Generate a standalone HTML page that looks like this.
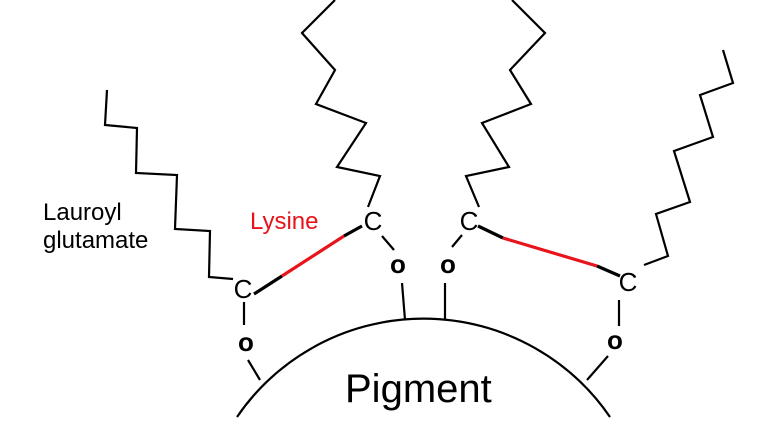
<!DOCTYPE html>
<html><head><meta charset="utf-8"><style>html,body{margin:0;padding:0;background:#fff}svg{display:block}</style></head>
<body>
<svg width="765" height="437" viewBox="0 0 765 437" xmlns="http://www.w3.org/2000/svg" font-family="Liberation Sans, Arial, sans-serif">
<g fill="none" stroke="#000" stroke-width="2.2" stroke-linejoin="miter">
<polyline points="107,90 105,125 137,128 136,173 177,175 175,229 210,231 209,277 233,279"/>
<polyline points="335,0 302,33 335,70 316,104 366,123 337,167 380,176 368,207"/>
<polyline points="512,0 545,33 510,70 531,104 482,123 509,167 466,176 479,207"/>
<polyline points="723,50 733,83 700,95 713,137 674,151 690,202 656,214 668,256 644,265"/>
<line x1="244" y1="302" x2="244" y2="325"/>
<line x1="248" y1="360" x2="260" y2="380"/>
<line x1="382" y1="236" x2="394" y2="250"/>
<line x1="402" y1="283" x2="405" y2="320"/>
<line x1="462" y1="235" x2="452" y2="247"/>
<line x1="445" y1="283" x2="445" y2="319"/>
<line x1="619" y1="300" x2="619" y2="326"/>
<line x1="608" y1="356" x2="587" y2="380"/>
<path d="M237,417 A226,226 0 0 1 610,417"/>
</g>
<g stroke-width="3.2" fill="none">
<line x1="254" y1="294" x2="282" y2="276" stroke="#000"/>
<line x1="282" y1="276" x2="344" y2="236" stroke="#e8141c"/>
<line x1="344" y1="236" x2="362" y2="226" stroke="#000"/>
<line x1="478" y1="226" x2="503" y2="238" stroke="#000"/>
<line x1="503" y1="238" x2="597" y2="266" stroke="#e8141c"/>
<line x1="597" y1="266" x2="620" y2="276" stroke="#000"/>
</g>
<g font-size="26" text-anchor="middle" fill="#000">
<text x="243" y="298">C</text>
<text x="373" y="230">C</text>
<text x="469" y="230">C</text>
<text x="628" y="291">C</text>
</g>
<g font-size="26" font-weight="bold" text-anchor="middle" fill="#000">
<text x="246" y="351">o</text>
<text x="398" y="273">o</text>
<text x="448" y="273">o</text>
<text x="615" y="349">o</text>
</g>
<text x="43" y="220" font-size="24" fill="#000">Lauroyl</text>
<text x="43" y="248" font-size="24" fill="#000">glutamate</text>
<text x="250" y="229" font-size="24" fill="#e8141c">Lysine</text>
<text x="345" y="402" font-size="40" fill="#000">Pigment</text>
</svg>
</body></html>
